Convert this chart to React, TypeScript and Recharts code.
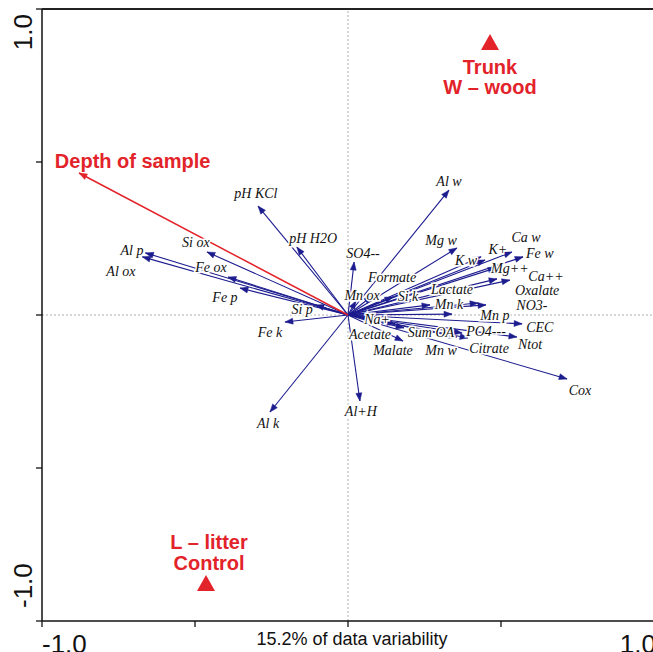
import React from "react";
import { ComposedChart, Scatter, XAxis, YAxis, ReferenceLine } from "recharts";

// Environmental variables (blue arrows): arrow tip coordinates and label anchor coordinates
const variables = [
  "pH KCl", "pH H2O", "Si ox", "Al p", "Al ox", "Fe ox", "Fe p", "Si p", "Fe k", "Al k",
  "Al+H", "SO4--", "Mn ox", "Formate", "Al w", "Mg w", "K w", "K+", "Ca w", "Fe w",
  "Mg++", "Ca++", "Lactate", "Oxalate", "Si k", "Mn k", "NO3-", "Mn p", "Na+", "CEC",
  "Acetate", "Sum OA", "PO4---", "Malate", "Mn w", "Citrate", "Ntot", "Cox",
];
const axis1 = [
  -0.294, -0.167, -0.461, -0.662, -0.672, -0.392, -0.353, -0.105, -0.206, -0.255,
  0.039, 0.02, 0.026, 0.078, 0.33, 0.356, 0.435, 0.448, 0.536, 0.572,
  0.484, 0.529, 0.268, 0.487, 0.147, 0.425, 0.451, 0.34, 0.111, 0.569,
  0.154, 0.183, 0.373, 0.18, 0.356, 0.392, 0.552, 0.716,
];
const axis2 = [
  0.356, 0.222, 0.206, 0.203, 0.19, 0.124, 0.088, 0.033, -0.023, -0.317,
  -0.281, 0.173, 0.046, 0.062, 0.408, 0.219, 0.19, 0.18, 0.206, 0.19,
  0.154, 0.114, 0.033, 0.118, 0.059, 0.039, 0.033, 0.003, -0.01, -0.029,
  -0.029, -0.042, -0.059, -0.085, -0.072, -0.075, -0.072, -0.209,
];
const labelAxis1 = [
  -0.301, -0.114, -0.497, -0.706, -0.742, -0.448, -0.402, -0.15, -0.255, -0.261,
  0.042, 0.049, 0.046, 0.144, 0.33, 0.304, 0.386, 0.49, 0.582, 0.627,
  0.529, 0.647, 0.34, 0.618, 0.196, 0.33, 0.601, 0.48, 0.095, 0.627,
  0.072, 0.271, 0.451, 0.147, 0.304, 0.461, 0.595, 0.758,
];
const labelAxis2 = [
  0.399, 0.252, 0.239, 0.212, 0.144, 0.157, 0.059, 0.02, -0.056, -0.353,
  -0.314, 0.203, 0.065, 0.124, 0.438, 0.245, 0.18, 0.216, 0.255, 0.203,
  0.154, 0.127, 0.085, 0.082, 0.062, 0.036, 0.033, 0.0, -0.013, -0.039,
  -0.062, -0.056, -0.052, -0.114, -0.114, -0.108, -0.095, -0.245,
];

// Supplementary variable (red arrow)
const suppName = "Depth of sample";
const suppAxis1 = -0.879;
const suppAxis2 = 0.464;
const suppLabelAxis1 = -0.958;
const suppLabelAxis2 = 0.503;

// Sample centroids (red triangles)
const sampleAxis1 = [0.464, -0.464];
const sampleAxis2 = [0.892, -0.876];
const sampleLabels = ["Trunk", "W \u2013 wood", "L \u2013 litter", "Control"];
const sampleLabelAxis1 = [0.464, 0.464, -0.454, -0.454];
const sampleLabelAxis2 = [0.812, 0.746, -0.743, -0.809];

const axisTicks = [-1, -0.5, 0, 0.5, 1];
const xTitle = "15.2% of data variability";

const BLUE = "#1c1c8f";
const RED = "#e3232a";
const SANS = "Liberation Sans, Arial, Helvetica, sans-serif";
const SERIF = "Liberation Serif, Times New Roman, serif";

const arrowShape = (color: string) => (props: any) => {
  const { cx, cy, payload } = props;
  if (!payload || !payload.tip || cx == null || cy == null) return <g />;
  const ang = Math.atan2(-payload.y, payload.x);
  const L = 8;
  const W = 3;
  const c = Math.cos(ang);
  const s = Math.sin(ang);
  const bx = cx - L * c;
  const by = cy - L * s;
  const pts = `${cx},${cy} ${bx - W * s},${by + W * c} ${bx + W * s},${by - W * c}`;
  return <polygon points={pts} fill={color} stroke={color} strokeWidth={0.5} />;
};

const varLabelShape = (props: any) => {
  const { cx, cy, payload } = props;
  if (cx == null) return <g />;
  return (
    <text
      x={cx}
      y={cy}
      dy={5}
      textAnchor="middle"
      fontFamily={SERIF}
      fontStyle="italic"
      fontSize={14}
      fill="#111"
      stroke="#fff"
      strokeWidth={3}
      paintOrder="stroke"
    >
      {payload.name}
    </text>
  );
};

const redLabelShape = (anchor: "start" | "middle") => (props: any) => {
  const { cx, cy, payload } = props;
  if (cx == null) return <g />;
  return (
    <text x={cx} y={cy} dy={7} textAnchor={anchor} fontFamily={SANS} fontWeight="bold" fontSize={20} fill={RED}>
      {payload.name}
    </text>
  );
};

const triangleShape = (props: any) => {
  const { cx, cy } = props;
  if (cx == null) return <g />;
  const w = 9;
  const h = 8;
  return <polygon points={`${cx},${cy - h} ${cx - w},${cy + h} ${cx + w},${cy + h}`} fill={RED} />;
};

const XTick = (props: any) => {
  const { x, y, payload } = props;
  const v = payload.value;
  if (v !== -1 && v !== 1) return <g />;
  return (
    <text x={v < 0 ? x : x + 2} y={y} dy={24} textAnchor={v < 0 ? "start" : "end"} fontSize={26} fontFamily={SANS} fill="#111">
      {v.toFixed(1)}
    </text>
  );
};

const YTick = (props: any) => {
  const { x, y, payload } = props;
  const v = payload.value;
  if (v !== -1 && v !== 1) return <g />;
  const px = x - 2;
  const py = v > 0 ? y + 5 : y - 13;
  return (
    <text x={px} y={py} transform={`rotate(-90, ${px}, ${py})`} textAnchor={v > 0 ? "end" : "start"} fontSize={26} fontFamily={SANS} fill="#111">
      {v.toFixed(1)}
    </text>
  );
};

const XTitle = (props: any) => {
  const vb = props.viewBox || {};
  return (
    <text x={vb.x + vb.width / 2 + 4} y={vb.y + 24} textAnchor="middle" fontSize={18} fontFamily={SANS} fill="#111">
      {xTitle}
    </text>
  );
};

export default function App() {
  const varLabels = variables.map((name, i) => ({ x: labelAxis1[i], y: labelAxis2[i], name }));
  const redLabels = sampleLabels.map((name, i) => ({ x: sampleLabelAxis1[i], y: sampleLabelAxis2[i], name }));
  const samples = sampleAxis1.map((x, i) => ({ x, y: sampleAxis2[i] }));

  return (
    <div style={{ position: "fixed", left: 0, top: 0, width: 653, height: 652, overflow: "hidden", background: "#fff" }}>
      <ComposedChart width={680} height={652} margin={{ top: 9, right: 26, bottom: 0, left: 0 }}>
        <XAxis
          type="number"
          dataKey="x"
          domain={[-1, 1]}
          ticks={axisTicks}
          allowDataOverflow
          height={31}
          tick={<XTick />}
          tickSize={6}
          tickLine={{ stroke: "#111", strokeWidth: 1.3 }}
          axisLine={{ stroke: "#111", strokeWidth: 1.5 }}
          label={<XTitle />}
        />
        <YAxis
          type="number"
          dataKey="y"
          domain={[-1, 1]}
          ticks={axisTicks}
          allowDataOverflow
          width={42}
          tick={<YTick />}
          tickSize={6}
          tickLine={{ stroke: "#111", strokeWidth: 1.3 }}
          axisLine={{ stroke: "#111", strokeWidth: 1.5 }}
        />
        <ReferenceLine x={0} stroke="#9a9a9a" strokeWidth={0.8} strokeDasharray="2 2" />
        <ReferenceLine y={0} stroke="#9a9a9a" strokeWidth={0.8} strokeDasharray="2 2" />
        <ReferenceLine y={1} stroke="#222" strokeWidth={2} />
        <ReferenceLine x={1} stroke="#222" strokeWidth={2} />
        {variables.map((name, i) => (
          <Scatter
            key={name}
            data={[
              { x: 0, y: 0, tip: false },
              { x: axis1[i], y: axis2[i], tip: true },
            ]}
            line={{ stroke: BLUE, strokeWidth: 1.1 }}
            shape={arrowShape(BLUE)}
            isAnimationActive={false}
          />
        ))}
        <Scatter
          data={[
            { x: 0, y: 0, tip: false },
            { x: suppAxis1, y: suppAxis2, tip: true },
          ]}
          line={{ stroke: RED, strokeWidth: 1.5 }}
          shape={arrowShape(RED)}
          isAnimationActive={false}
        />
        <Scatter data={varLabels} shape={varLabelShape} isAnimationActive={false} />
        <Scatter data={samples} shape={triangleShape} isAnimationActive={false} />
        <Scatter data={redLabels} shape={redLabelShape("middle")} isAnimationActive={false} />
        <Scatter data={[{ x: suppLabelAxis1, y: suppLabelAxis2, name: suppName }]} shape={redLabelShape("start")} isAnimationActive={false} />
      </ComposedChart>
    </div>
  );
}
